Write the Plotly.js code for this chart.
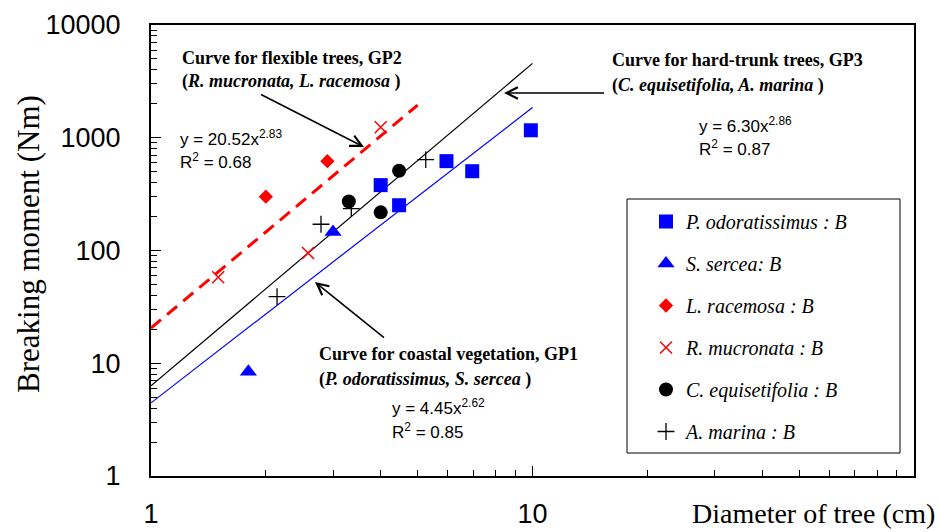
<!DOCTYPE html>
<html>
<head>
<meta charset="utf-8">
<script src="https://cdn.plot.ly/plotly-3.0.1.min.js"></script>
<style>
html,body{margin:0;padding:0;background:#fff;}
#chart{width:940px;height:532px;}
</style>
</head>
<body>
<div id="chart"></div>
<script>
// ---- data ----
const podoX = [4.0, 4.47, 5.95, 6.95, 9.9];
const podoY = [380, 252, 620, 505, 1165];
const sserX = [1.8, 3.0];
const sserY = [8.4, 146];
const lracX = [2.0, 2.9];
const lracY = [300, 620];
const rmucX = [1.5, 2.58, 4.0];
const rmucY = [58, 95, 1240];
const cequX = [3.3, 4.0, 4.47];
const cequY = [272, 218, 510];
const amarX = [2.14, 2.79, 3.35, 5.25];
const amarY = [39, 171, 235, 640];

// fitted curves (end points)
const gp1X = [1, 10];
const gp1Y = [4.45, 1855];
const gp2X = [1, 5];
const gp2Y = [20.52, 1950];
const gp3X = [1, 10];
const gp3Y = [6.30, 4565];

const seriesNames = [
  'P. odoratissimus : B',
  'S. sercea: B',
  'L. racemosa : B',
  'R. mucronata : B',
  'C. equisetifolia : B',
  'A. marina : B'
];

const xTickVals = [1, 10];
const xTickText = ['1', '10'];
const yTickVals = [1, 10, 100, 1000, 10000];
const yTickText = ['1', '10', '100', '1000', '10000'];

const xTitle = 'Diameter of tree (cm)';
const yTitle = 'Breaking moment (Nm)';

const BLUE = '#0000ff', RED = '#ff0000', BLACK = '#000000';

const traces = [
  {x: gp1X, y: gp1Y, mode: 'lines', line: {color: BLUE, width: 1.2}, showlegend: false, hoverinfo: 'skip'},
  {x: gp3X, y: gp3Y, mode: 'lines', line: {color: BLACK, width: 1.2}, showlegend: false, hoverinfo: 'skip'},
  {x: gp2X, y: gp2Y, mode: 'lines', line: {color: RED, width: 3, dash: '13px,8px'}, showlegend: false, hoverinfo: 'skip'},
  {x: podoX, y: podoY, name: seriesNames[0], legendgroup: 'g1', mode: 'markers',
   marker: {symbol: 'square', size: 14, color: BLUE}},
  {x: sserX, y: sserY, name: seriesNames[1], legendgroup: 'g2', mode: 'markers',
   marker: {symbol: 'triangle-up', size: 15, color: BLUE}},
  {x: lracX, y: lracY, name: seriesNames[2], legendgroup: 'g3', mode: 'markers',
   marker: {symbol: 'diamond', size: 11, color: RED}},
  {x: rmucX, y: rmucY, name: seriesNames[3], legendgroup: 'g4', mode: 'markers',
   marker: {symbol: 'x-thin-open', size: 12, color: RED, line: {width: 1.5, color: RED}}},
  {x: cequX, y: cequY, name: seriesNames[4], legendgroup: 'g5', mode: 'markers',
   marker: {symbol: 'circle', size: 14, color: BLACK}},
  {x: amarX, y: amarY, name: seriesNames[5], legendgroup: 'g6', mode: 'markers',
   marker: {symbol: 'cross-thin-open', size: 12, color: BLACK, line: {width: 1.3, color: BLACK}}}
];

const L = 151, T = 25, W = 763, H = 451;
function px(x) { return (x - L) / W; }
function py(y) { return (T + H - y) / H; }

const serif = 'Liberation Serif, Times New Roman, serif';
const sans = 'Liberation Sans, Arial, sans-serif';
const boldFont = {family: serif, size: 18, color: BLACK};
const eqFont = {family: sans, size: 17, color: BLACK};

function txt(text, x, y, font, extra) {
  return Object.assign({text: text, xref: 'paper', yref: 'paper', x: px(x), y: py(y),
    xanchor: 'left', yanchor: 'middle', showarrow: false, font: font}, extra || {});
}
function arrow(hx, hy, tx, ty) {
  return {text: ' ', xref: 'paper', yref: 'paper', x: px(hx), y: py(hy),
    ax: tx - hx, ay: ty - hy, showarrow: true, arrowhead: 5, arrowsize: 1.4,
    arrowwidth: 1.6, arrowcolor: BLACK, standoff: 0, startstandoff: 0};
}

const annotations = [
  txt('<b>Curve for flexible trees, GP2</b>', 180, 58, boldFont),
  txt('<b>(<i>R. mucronata, L. racemosa</i> )</b>', 180, 82, boldFont),
  txt('y = 20.52x<sup>2.83</sup>', 178, 138, eqFont),
  txt('R<sup>2</sup> = 0.68', 178, 161, eqFont),
  txt('<b>Curve for hard-trunk trees, GP3</b>', 610, 60, boldFont),
  txt('<b>(<i>C. equisetifolia, A. marina</i> )</b>', 610, 85, boldFont),
  txt('y = 6.30x<sup>2.86</sup>', 697, 125, eqFont),
  txt('R<sup>2</sup> = 0.87', 697, 148, eqFont),
  txt('<b>Curve for coastal vegetation, GP1</b>', 317, 354, boldFont),
  txt('<b>(<i>P. odoratissimus, S. sercea</i> )</b>', 317, 379, boldFont),
  txt('y = 4.45x<sup>2.62</sup>', 390, 407, eqFont),
  txt('R<sup>2</sup> = 0.85', 390, 431, eqFont),
  arrow(364, 147, 258, 93),
  arrow(504, 93, 607, 93),
  arrow(315, 282, 387, 340),
  txt(xTitle, 937, 513, {family: serif, size: 28, color: BLACK}, {xanchor: 'right'}),
  txt(yTitle, 28, 244, {family: serif, size: 31, color: BLACK}, {xanchor: 'center', textangle: -90})
];

const layout = {
  width: 940, height: 532,
  margin: {l: L, r: 940 - L - W, t: T, b: 532 - T - H, pad: 0},
  paper_bgcolor: '#fff', plot_bgcolor: '#fff',
  showlegend: true,
  legend: {x: px(646), y: py(202), xanchor: 'left', yanchor: 'top',
    bgcolor: 'rgba(0,0,0,0)', borderwidth: 0, tracegroupgap: 13,
    font: {family: serif, size: 20, color: BLACK, style: 'italic'}},
  xaxis: {type: 'log', range: [0, 2], tickmode: 'array', tickvals: xTickVals, ticktext: xTickText,
    ticks: 'inside', ticklen: 10, tickwidth: 1.2, tickcolor: BLACK,
    showline: true, linewidth: 2, linecolor: BLACK, mirror: true,
    showgrid: false, zeroline: false, ticklabelstandoff: 13,
    tickfont: {family: sans, size: 27, color: BLACK},
    minor: {dtick: 'D1', ticks: 'inside', ticklen: 6, tickwidth: 1, tickcolor: BLACK, showgrid: false}},
  yaxis: {type: 'log', range: [0, 4], tickmode: 'array', tickvals: yTickVals, ticktext: yTickText,
    ticks: 'inside', ticklen: 10, tickwidth: 1.2, tickcolor: BLACK,
    showline: true, linewidth: 2, linecolor: BLACK, mirror: true,
    showgrid: false, zeroline: false, ticklabelstandoff: 23,
    tickfont: {family: sans, size: 27, color: BLACK},
    minor: {dtick: 'D1', ticks: 'inside', ticklen: 6, tickwidth: 1, tickcolor: BLACK, showgrid: false}},
  shapes: [
    {type: 'rect', xref: 'paper', yref: 'paper', x0: px(627), x1: px(900), y0: py(453), y1: py(199),
     line: {color: BLACK, width: 1}, fillcolor: 'rgba(0,0,0,0)', layer: 'below'}
  ],
  annotations: annotations
};

Plotly.newPlot('chart', traces, layout, {staticPlot: true, displayModeBar: false});
</script>
</body>
</html>
